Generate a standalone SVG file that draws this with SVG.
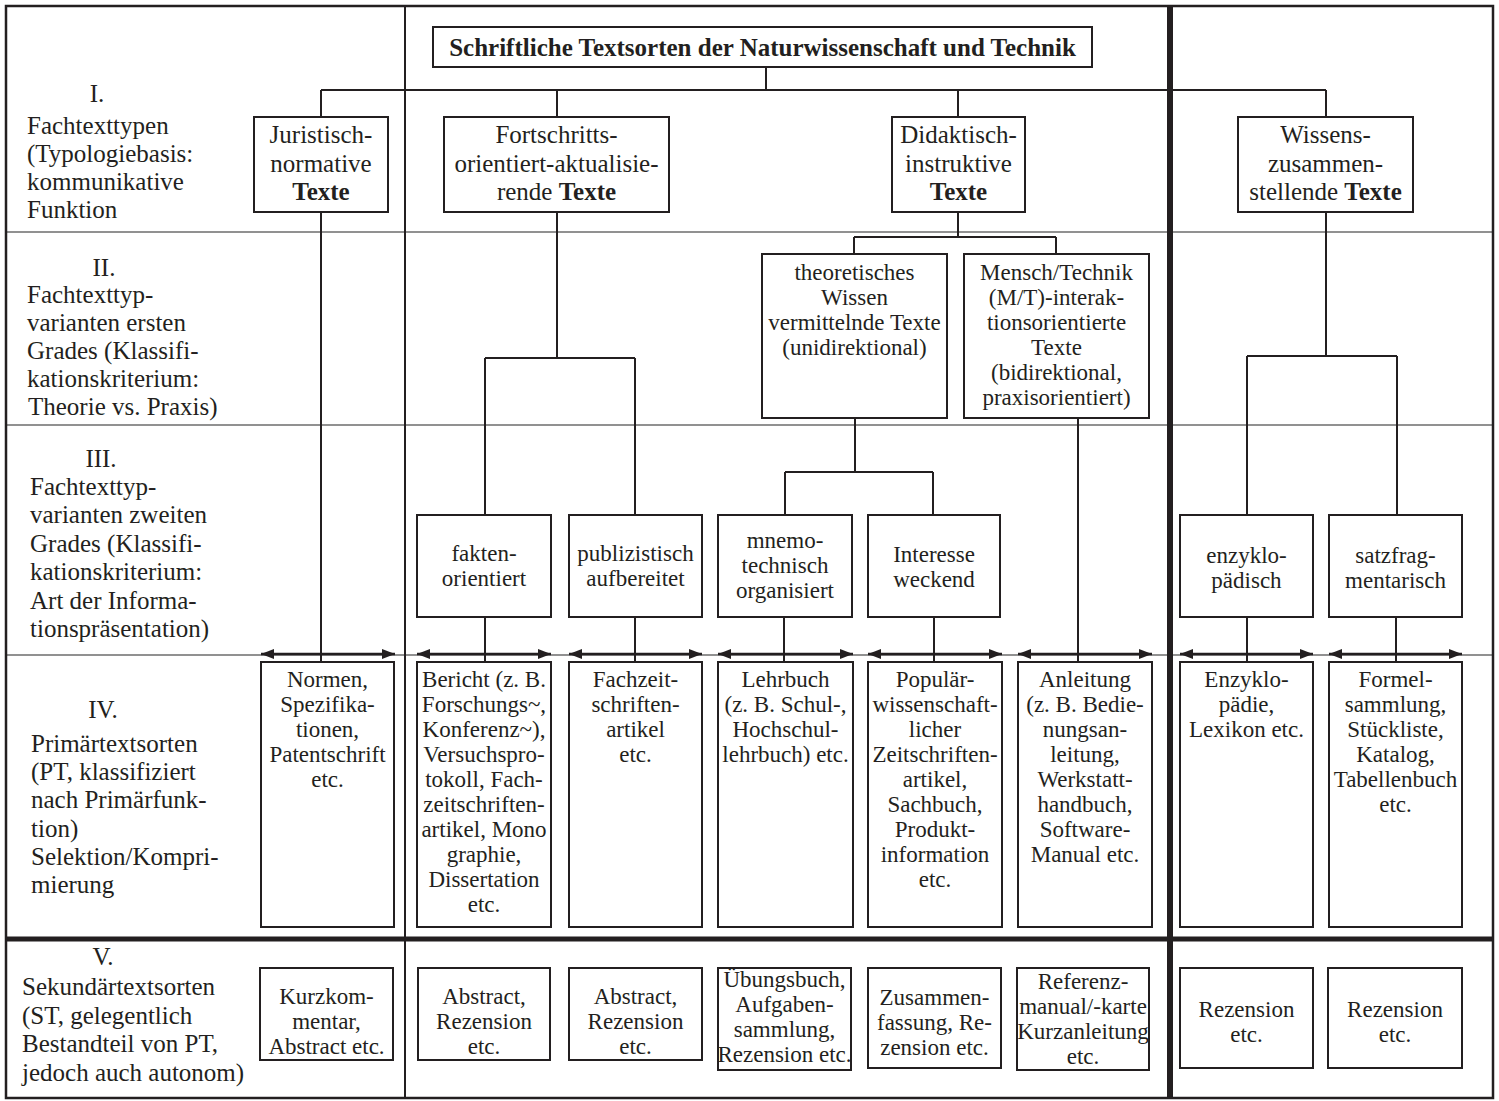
<svg xmlns="http://www.w3.org/2000/svg" width="1499" height="1101" viewBox="0 0 1499 1101">
<style>
.bx{fill:#fff;stroke:#231f20;stroke-width:2}
.t{font-family:"Liberation Serif","Times New Roman",serif;fill:#231f20;text-anchor:middle}
.s25{font-size:25px}
.s23{font-size:23px}
.lb{font-family:"Liberation Serif","Times New Roman",serif;fill:#231f20;font-size:25px}
.b{font-weight:bold}
.cn{stroke:#231f20;stroke-width:2;fill:none}
.ar{stroke:#231f20;stroke-width:2.5;fill:none;marker-start:url(#ah);marker-end:url(#ah)}
.gr{stroke:#6d6d6d;stroke-width:1.5}
</style>
<defs>
<marker id="ah" markerUnits="userSpaceOnUse" markerWidth="14" markerHeight="12" refX="13" refY="6" orient="auto-start-reverse" viewBox="0 0 14 12">
<path d="M0,1 L13,6 L0,11 z" fill="#231f20"/>
</marker>
</defs>
<rect width="1499" height="1101" fill="#fff"/>

<g id="grid">
<line class="gr" x1="6" y1="232" x2="1493" y2="232"/>
<line class="gr" x1="6" y1="425" x2="1493" y2="425"/>
<line class="gr" x1="6" y1="655" x2="1493" y2="655"/>
<line x1="405" y1="6" x2="405" y2="1098" stroke="#231f20" stroke-width="2"/>
<line x1="6" y1="939" x2="1493" y2="939" stroke="#231f20" stroke-width="5"/>
<line x1="1170" y1="6" x2="1170" y2="1098" stroke="#231f20" stroke-width="6"/>
<rect x="6" y="6" width="1487" height="1092" fill="none" stroke="#231f20" stroke-width="2.5"/>
</g>

<g id="row-labels">
<text class="lb" text-anchor="middle" x="97" y="102">I.</text>
<text class="lb" x="27" y="134"><tspan x="27">Fachtexttypen</tspan><tspan x="27" dy="28">(Typologiebasis:</tspan><tspan x="27" dy="28">kommunikative</tspan><tspan x="27" dy="28">Funktion</tspan></text>
<text class="lb" text-anchor="middle" x="104" y="276">II.</text>
<text class="lb" x="27" y="303"><tspan x="27">Fachtexttyp-</tspan><tspan x="27" dy="28.1">varianten ersten</tspan><tspan x="27" dy="28.1">Grades (Klassifi-</tspan><tspan x="27" dy="28.1">kationskriterium:</tspan><tspan x="28" dy="28.1">Theorie vs. Praxis)</tspan></text>
<text class="lb" text-anchor="middle" x="101" y="467">III.</text>
<text class="lb" x="30" y="495"><tspan x="30">Fachtexttyp-</tspan><tspan x="30" dy="28.4">varianten zweiten</tspan><tspan x="30" dy="28.4">Grades (Klassifi-</tspan><tspan x="30" dy="28.4">kationskriterium:</tspan><tspan x="30" dy="28.4">Art der Informa-</tspan><tspan x="30" dy="28.4">tionspräsentation)</tspan></text>
<text class="lb" text-anchor="middle" x="103" y="718">IV.</text>
<text class="lb" x="31" y="752"><tspan x="31">Primärtextsorten</tspan><tspan x="31" dy="28.2">(PT, klassifiziert</tspan><tspan x="31" dy="28.2">nach Primärfunk-</tspan><tspan x="31" dy="28.2">tion)</tspan><tspan x="31" dy="28.2">Selektion/Kompri-</tspan><tspan x="31" dy="28.2">mierung</tspan></text>
<text class="lb" text-anchor="middle" x="103" y="965">V.</text>
<text class="lb" x="22" y="995"><tspan x="22">Sekundärtextsorten</tspan><tspan x="22" dy="28.5">(ST, gelegentlich</tspan><tspan x="22" dy="28.5">Bestandteil von PT,</tspan><tspan x="22" dy="28.5">jedoch auch autonom)</tspan></text>
</g>

<g id="connectors">
<path class="cn" d="M766,67 V90 M321,90 H1326 M321,90 V117 M557,90 V117 M958,90 V117 M1326,90 V117"/>
<path class="cn" d="M321,212 V662"/>
<path class="cn" d="M557,212 V358 M485,358 H635 M485,358 V515 M635,358 V515"/>
<path class="cn" d="M958,212 V237 M854,237 H1056 M854,237 V254 M1056,237 V254"/>
<path class="cn" d="M855,418 V472 M785,472 H933 M785,472 V515 M933,472 V515"/>
<path class="cn" d="M1078,418 V662"/>
<path class="cn" d="M1326,212 V356 M1247,356 H1397 M1247,356 V515 M1397,356 V515"/>
<path class="cn" d="M485,617 V662 M635,617 V662 M784,617 V662 M934,617 V662 M1247,617 V662 M1396,617 V662"/>
<line class="ar" x1="261" y1="654" x2="395" y2="654"/>
<line class="ar" x1="417" y1="654" x2="551" y2="654"/>
<line class="ar" x1="569" y1="654" x2="702" y2="654"/>
<line class="ar" x1="718" y1="654" x2="853" y2="654"/>
<line class="ar" x1="868" y1="654" x2="1002" y2="654"/>
<line class="ar" x1="1018" y1="654" x2="1152" y2="654"/>
<line class="ar" x1="1180" y1="654" x2="1313" y2="654"/>
<line class="ar" x1="1329" y1="654" x2="1462" y2="654"/>
</g>

<g id="n-title"><rect class="bx" x="433" y="27" width="659" height="40"/>
<text class="t s25 b" x="762.5" y="56">Schriftliche Textsorten der Naturwissenschaft und Technik</text></g>

<g id="n-juristisch"><rect class="bx" x="254" y="117" width="134" height="95"/>
<text class="t s25" x="321" y="143"><tspan x="321">Juristisch-</tspan><tspan x="321" dy="28.5">normative</tspan><tspan x="321" dy="28.5" class="b">Texte</tspan></text></g>

<g id="n-fortschritt"><rect class="bx" x="444" y="117" width="225" height="95"/>
<text class="t s25" x="556.5" y="143"><tspan x="556.5">Fortschritts-</tspan><tspan x="556.5" dy="28.5">orientiert-aktualisie-</tspan><tspan x="556.5" dy="28.5">rende <tspan class="b">Texte</tspan></tspan></text></g>

<g id="n-didaktisch"><rect class="bx" x="892" y="117" width="133" height="95"/>
<text class="t s25" x="958.5" y="143"><tspan x="958.5">Didaktisch-</tspan><tspan x="958.5" dy="28.5">instruktive</tspan><tspan x="958.5" dy="28.5" class="b">Texte</tspan></text></g>

<g id="n-wissens"><rect class="bx" x="1238" y="117" width="175" height="95"/>
<text class="t s25" x="1325.5" y="143"><tspan x="1325.5">Wissens-</tspan><tspan x="1325.5" dy="28.5">zusammen-</tspan><tspan x="1325.5" dy="28.5">stellende <tspan class="b">Texte</tspan></tspan></text></g>

<g id="n-theoretisch"><rect class="bx" x="762" y="254" width="185" height="164"/>
<text class="t s23" x="854.5" y="280"><tspan x="854.5">theoretisches</tspan><tspan x="854.5" dy="25">Wissen</tspan><tspan x="854.5" dy="25">vermittelnde Texte</tspan><tspan x="854.5" dy="25">(unidirektional)</tspan></text></g>

<g id="n-mensch"><rect class="bx" x="964" y="254" width="185" height="164"/>
<text class="t s23" x="1056.5" y="280"><tspan x="1056.5">Mensch/Technik</tspan><tspan x="1056.5" dy="25">(M/T)-interak-</tspan><tspan x="1056.5" dy="25">tionsorientierte</tspan><tspan x="1056.5" dy="25">Texte</tspan><tspan x="1056.5" dy="25">(bidirektional,</tspan><tspan x="1056.5" dy="25">praxisorientiert)</tspan></text></g>

<g id="n-fakten"><rect class="bx" x="417" y="515" width="134" height="102"/>
<text class="t s23" x="484" y="561"><tspan x="484">fakten-</tspan><tspan x="484" dy="25">orientiert</tspan></text></g>

<g id="n-publizistisch"><rect class="bx" x="569" y="515" width="133" height="102"/>
<text class="t s23" x="635.5" y="561"><tspan x="635.5">publizistisch</tspan><tspan x="635.5" dy="25">aufbereitet</tspan></text></g>

<g id="n-mnemo"><rect class="bx" x="718" y="515" width="134" height="102"/>
<text class="t s23" x="785" y="548"><tspan x="785">mnemo-</tspan><tspan x="785" dy="25">technisch</tspan><tspan x="785" dy="25">organisiert</tspan></text></g>

<g id="n-interesse"><rect class="bx" x="868" y="515" width="132" height="102"/>
<text class="t s23" x="934" y="562"><tspan x="934">Interesse</tspan><tspan x="934" dy="25">weckend</tspan></text></g>

<g id="n-enzyklopaedisch"><rect class="bx" x="1180" y="515" width="133" height="102"/>
<text class="t s23" x="1246.5" y="563"><tspan x="1246.5">enzyklo-</tspan><tspan x="1246.5" dy="25">pädisch</tspan></text></g>

<g id="n-satzfrag"><rect class="bx" x="1329" y="515" width="133" height="102"/>
<text class="t s23" x="1395.5" y="563"><tspan x="1395.5">satzfrag-</tspan><tspan x="1395.5" dy="25">mentarisch</tspan></text></g>

<g id="n-normen"><rect class="bx" x="261" y="662" width="133" height="265"/>
<text class="t s23" x="327.5" y="687"><tspan x="327.5">Normen,</tspan><tspan x="327.5" dy="25">Spezifika-</tspan><tspan x="327.5" dy="25">tionen,</tspan><tspan x="327.5" dy="25">Patentschrift</tspan><tspan x="327.5" dy="25">etc.</tspan></text></g>

<g id="n-bericht"><rect class="bx" x="417" y="662" width="134" height="265"/>
<text class="t s23" x="484" y="687"><tspan x="484">Bericht (z. B.</tspan><tspan x="484" dy="25">Forschungs~,</tspan><tspan x="484" dy="25">Konferenz~),</tspan><tspan x="484" dy="25">Versuchspro-</tspan><tspan x="484" dy="25">tokoll, Fach-</tspan><tspan x="484" dy="25">zeitschriften-</tspan><tspan x="484" dy="25">artikel, Mono</tspan><tspan x="484" dy="25">graphie,</tspan><tspan x="484" dy="25">Dissertation</tspan><tspan x="484" dy="25">etc.</tspan></text></g>

<g id="n-fachzeit"><rect class="bx" x="569" y="662" width="133" height="265"/>
<text class="t s23" x="635.5" y="687"><tspan x="635.5">Fachzeit-</tspan><tspan x="635.5" dy="25">schriften-</tspan><tspan x="635.5" dy="25">artikel</tspan><tspan x="635.5" dy="25">etc.</tspan></text></g>

<g id="n-lehrbuch"><rect class="bx" x="718" y="662" width="135" height="265"/>
<text class="t s23" x="785.5" y="687"><tspan x="785.5">Lehrbuch</tspan><tspan x="785.5" dy="25">(z. B. Schul-,</tspan><tspan x="785.5" dy="25">Hochschul-</tspan><tspan x="785.5" dy="25">lehrbuch) etc.</tspan></text></g>

<g id="n-populaer"><rect class="bx" x="868" y="662" width="134" height="265"/>
<text class="t s23" x="935" y="687"><tspan x="935">Populär-</tspan><tspan x="935" dy="25">wissenschaft-</tspan><tspan x="935" dy="25">licher</tspan><tspan x="935" dy="25">Zeitschriften-</tspan><tspan x="935" dy="25">artikel,</tspan><tspan x="935" dy="25">Sachbuch,</tspan><tspan x="935" dy="25">Produkt-</tspan><tspan x="935" dy="25">information</tspan><tspan x="935" dy="25">etc.</tspan></text></g>

<g id="n-anleitung"><rect class="bx" x="1018" y="662" width="134" height="265"/>
<text class="t s23" x="1085" y="687"><tspan x="1085">Anleitung</tspan><tspan x="1085" dy="25">(z. B. Bedie-</tspan><tspan x="1085" dy="25">nungsan-</tspan><tspan x="1085" dy="25">leitung,</tspan><tspan x="1085" dy="25">Werkstatt-</tspan><tspan x="1085" dy="25">handbuch,</tspan><tspan x="1085" dy="25">Software-</tspan><tspan x="1085" dy="25">Manual etc.</tspan></text></g>

<g id="n-enzyklopaedie"><rect class="bx" x="1180" y="662" width="133" height="265"/>
<text class="t s23" x="1246.5" y="687"><tspan x="1246.5">Enzyklo-</tspan><tspan x="1246.5" dy="25">pädie,</tspan><tspan x="1246.5" dy="25">Lexikon etc.</tspan></text></g>

<g id="n-formel"><rect class="bx" x="1329" y="662" width="133" height="265"/>
<text class="t s23" x="1395.5" y="687"><tspan x="1395.5">Formel-</tspan><tspan x="1395.5" dy="25">sammlung,</tspan><tspan x="1395.5" dy="25">Stückliste,</tspan><tspan x="1395.5" dy="25">Katalog,</tspan><tspan x="1395.5" dy="25">Tabellenbuch</tspan><tspan x="1395.5" dy="25">etc.</tspan></text></g>

<g id="n-kurzkommentar"><rect class="bx" x="260" y="968" width="133" height="92"/>
<text class="t s23" x="326.5" y="1004"><tspan x="326.5">Kurzkom-</tspan><tspan x="326.5" dy="25">mentar,</tspan><tspan x="326.5" dy="25">Abstract etc.</tspan></text></g>

<g id="n-abstract1"><rect class="bx" x="418" y="968" width="132" height="92"/>
<text class="t s23" x="484" y="1004"><tspan x="484">Abstract,</tspan><tspan x="484" dy="25">Rezension</tspan><tspan x="484" dy="25">etc.</tspan></text></g>

<g id="n-abstract2"><rect class="bx" x="569" y="968" width="133" height="92"/>
<text class="t s23" x="635.5" y="1004"><tspan x="635.5">Abstract,</tspan><tspan x="635.5" dy="25">Rezension</tspan><tspan x="635.5" dy="25">etc.</tspan></text></g>

<g id="n-uebungsbuch"><rect class="bx" x="718" y="968" width="133" height="102"/>
<text class="t s23" x="784.5" y="987"><tspan x="784.5">Übungsbuch,</tspan><tspan x="784.5" dy="25">Aufgaben-</tspan><tspan x="784.5" dy="25">sammlung,</tspan><tspan x="784.5" dy="25">Rezension etc.</tspan></text></g>

<g id="n-zusammenfassung"><rect class="bx" x="868" y="968" width="133" height="100"/>
<text class="t s23" x="934.5" y="1005"><tspan x="934.5">Zusammen-</tspan><tspan x="934.5" dy="25">fassung, Re-</tspan><tspan x="934.5" dy="25">zension etc.</tspan></text></g>

<g id="n-referenz"><rect class="bx" x="1017" y="968" width="132" height="102"/>
<text class="t s23" x="1083" y="989"><tspan x="1083">Referenz-</tspan><tspan x="1083" dy="25">manual/-karte</tspan><tspan x="1083" dy="25">Kurzanleitung</tspan><tspan x="1083" dy="25">etc.</tspan></text></g>

<g id="n-rezension1"><rect class="bx" x="1180" y="968" width="133" height="100"/>
<text class="t s23" x="1246.5" y="1017"><tspan x="1246.5">Rezension</tspan><tspan x="1246.5" dy="25">etc.</tspan></text></g>

<g id="n-rezension2"><rect class="bx" x="1328" y="968" width="134" height="100"/>
<text class="t s23" x="1395" y="1017"><tspan x="1395">Rezension</tspan><tspan x="1395" dy="25">etc.</tspan></text></g>
</svg>
